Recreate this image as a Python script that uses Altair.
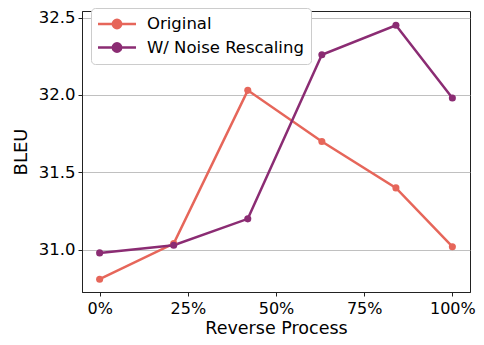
import altair as alt
import pandas as pd

x_vals = [0, 21, 42, 63, 84, 100]
original = [30.81, 31.04, 32.03, 31.70, 31.40, 31.02]
noise = [30.98, 31.03, 31.20, 32.26, 32.45, 31.98]
series = ["Original", "W/ Noise Rescaling"]
colors = ["#e6665a", "#8b2c73"]
x_ticks = [0, 25, 50, 75, 100]
y_ticks = [31.0, 31.5, 32.0, 32.5]

rows = []
for name, vals in zip(series, [original, noise]):
    for xv, yv in zip(x_vals, vals):
        rows.append({"x": xv, "y": yv, "series": name})
df = pd.DataFrame(rows)

sym = "M-2.5,0L2.5,0M0.55,0A0.55,0.55,0,1,1,-0.55,0A0.55,0.55,0,1,1,0.55,0Z"

color = alt.Color(
    "series:N",
    scale=alt.Scale(domain=series, range=colors),
    legend=alt.Legend(
        title=None, orient="none", legendX=9, legendY=-3,
        symbolType=sym, symbolSize=231, symbolStrokeWidth=2.5,
        symbolOffset=10, labelOffset=21,
        labelFontSize=16.5, labelFont="DejaVu Sans", labelColor="#000",
        padding=7, rowPadding=3.5,
        strokeColor="#cccccc", fillColor="#ffffff", cornerRadius=4,
    ),
)

base = alt.Chart(df).encode(
    x=alt.X("x:Q", scale=alt.Scale(domain=[-5, 105], nice=False, zero=False),
            axis=alt.Axis(values=x_ticks, labelExpr="datum.value + '%'",
                          title="Reverse Process", grid=False, labelPadding=4,
                          titlePadding=3, labelFontSize=16, titleFontSize=17.5)),
    y=alt.Y("y:Q", scale=alt.Scale(domain=[30.7275, 32.5425], nice=False, zero=False),
            axis=alt.Axis(values=y_ticks, format=".1f", title="BLEU", grid=True,
                          labelPadding=3, titlePadding=8)),
    color=color,
)
line = base.mark_line(strokeWidth=2.5)
pts = base.mark_point(filled=True, size=50, opacity=1)

chart = (line + pts).properties(
    width=388, height=281,
    autosize=alt.AutoSizeParams(type="none"),
    padding={"left": 74, "top": 3, "right": 6, "bottom": 45},
).configure_view(stroke="#222222", strokeWidth=1).configure_axis(
    labelFont="DejaVu Sans", titleFont="DejaVu Sans",
    labelFontSize=16.5, titleFontSize=18, titleFontWeight="normal",
    labelColor="#000", titleColor="#000",
    tickColor="#222", domainColor="#222", tickSize=4,
    gridColor="#b0b0b0", gridWidth=0.8,
)

chart.save("out.html", embed_options={"renderer": "svg", "actions": False})
